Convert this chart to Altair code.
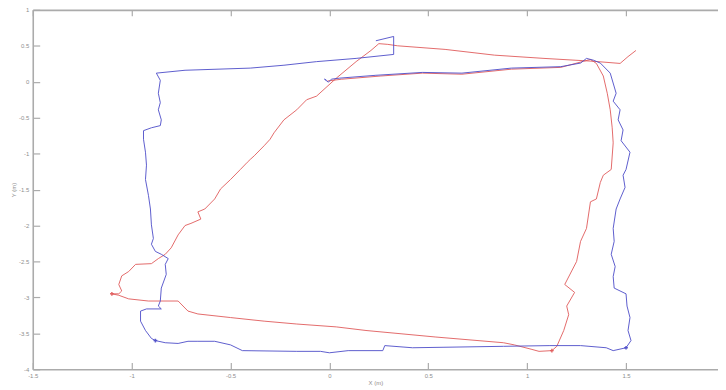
import altair as alt
import pandas as pd

# ---- data (metres) ----
blue_x = [-0.015, -0.025, -0.005, 0.01, 0.05, 0.235, 0.47, 0.67, 0.92, 1.17, 1.27, 1.30, 1.335, 1.37,
          1.42, 1.45, 1.435, 1.47, 1.46, 1.485, 1.475, 1.52, 1.50, 1.485, 1.495, 1.47, 1.45, 1.435, 1.44,
          1.425, 1.445, 1.435, 1.44, 1.50, 1.505, 1.52, 1.51, 1.525, 1.50,
          1.435, 1.40, 1.27, 1.115, 0.88, 0.42, 0.28, 0.27, 0.095, 0.0, -0.045, -0.165, -0.44, -0.50,
          -0.58, -0.665, -0.715, -0.765, -0.83, -0.88,
          -0.90, -0.93, -0.955, -0.955, -0.925, -0.85, -0.865, -0.855, -0.85, -0.825, -0.83, -0.815,
          -0.85, -0.88, -0.90, -0.89, -0.90, -0.905, -0.915, -0.93, -0.925, -0.93, -0.94, -0.94, -0.90,
          -0.855, -0.85, -0.865, -0.855, -0.865, -0.855, -0.875,
          -0.73, -0.40, -0.23, -0.065, 0.135, 0.325, 0.325, 0.235]
blue_y = [0.022, 0.036, -0.006, 0.036, 0.05, 0.09, 0.13, 0.12, 0.19, 0.21, 0.26, 0.325, 0.30, 0.26,
          0.12, -0.16, -0.27, -0.39, -0.53, -0.67, -0.82, -0.98, -1.22, -1.30, -1.47, -1.63, -1.77, -2.04, -2.22,
          -2.40, -2.57, -2.71, -2.87, -2.95, -3.12, -3.28, -3.46, -3.60, -3.70,
          -3.74, -3.70, -3.67, -3.67, -3.68, -3.70, -3.67, -3.74, -3.74, -3.77, -3.75, -3.75, -3.74, -3.66,
          -3.61, -3.61, -3.61, -3.64, -3.63, -3.60,
          -3.57, -3.46, -3.33, -3.19, -3.16, -3.16, -3.12, -3.05, -2.87, -2.68, -2.54, -2.46,
          -2.40, -2.36, -2.26, -2.18, -1.99, -1.77, -1.58, -1.36, -1.16, -0.98, -0.80, -0.68, -0.64,
          -0.61, -0.53, -0.39, -0.29, -0.16, 0.02, 0.12,
          0.16, 0.19, 0.23, 0.28, 0.325, 0.38, 0.63, 0.57]

red_x = [-0.01, 0.06, 0.26, 0.47, 0.67, 0.92, 1.17, 1.285, 1.32, 1.35,
         1.385, 1.405, 1.42, 1.43, 1.435, 1.425, 1.385, 1.37, 1.35, 1.32, 1.30, 1.27, 1.25, 1.22, 1.19,
         1.24, 1.20, 1.21, 1.185, 1.15, 1.125,
         1.06, 1.02, 0.935, 0.88, 0.535, 0.185, 0.035, -0.165, -0.33, -0.50, -0.665, -0.715, -0.765,
         -0.915, -1.015, -1.065, -1.10, -1.065, -1.05, -1.065, -1.05, -1.015, -0.98, -0.90, -0.865,
         -0.83, -0.80, -0.765, -0.73, -0.70, -0.65, -0.665, -0.63, -0.58, -0.55, -0.50, -0.45, -0.415,
         -0.40, -0.38, -0.33, -0.30, -0.28, -0.23, -0.165, -0.115, -0.065, 0.035, 0.135, 0.21, 0.25,
         0.295, 0.345, 0.585, 0.835, 1.085, 1.335, 1.47, 1.51, 1.55]
red_y = [0.01, 0.035, 0.08, 0.12, 0.105, 0.175, 0.20, 0.285, 0.31, 0.255,
         0.08, -0.16, -0.39, -0.64, -0.85, -1.22, -1.30, -1.40, -1.63, -1.67, -2.04, -2.22, -2.50, -2.66, -2.82,
         -2.93, -3.12, -3.24, -3.46, -3.68, -3.74,
         -3.75, -3.72, -3.66, -3.63, -3.55, -3.46, -3.41, -3.37, -3.33, -3.28, -3.23, -3.19, -3.05,
         -3.05, -3.02, -2.97, -2.95, -2.95, -2.91, -2.82, -2.70, -2.64, -2.54, -2.53, -2.46,
         -2.40, -2.31, -2.13, -2.00, -1.97, -1.91, -1.81, -1.77, -1.63, -1.49, -1.36, -1.22, -1.12,
         -1.08, -1.03, -0.89, -0.80, -0.71, -0.53, -0.39, -0.25, -0.20, 0.05, 0.28, 0.435, 0.53,
         0.52, 0.50, 0.45, 0.37, 0.325, 0.285, 0.255, 0.35, 0.435]

marker_x = [-0.88, 1.50, -1.10, 1.125]
marker_y = [-3.60, -3.70, -2.95, -3.74]
marker_run = ["blue", "blue", "red", "red"]

x_ticks = [-1.5, -1, -0.5, 0, 0.5, 1, 1.5]
y_ticks = [1, 0.5, 0, -0.5, -1, -1.5, -2, -2.5, -3, -3.5, -4]

# ---- style ----
W, H = 692, 363
AXC = "#ababab"
LABC = "#8e8e8e"
FONT = "Liberation Sans"
BLUE = "#4b4bc8"
RED = "#e05a5a"

xs = alt.Scale(domain=[-1.5, 1.965], nice=False, zero=False)
ys = alt.Scale(domain=[-4, 1], nice=False, zero=False)

blue_df = pd.DataFrame({"i": list(range(len(blue_x))), "x": blue_x, "y": blue_y})
red_df = pd.DataFrame({"i": list(range(len(red_x))), "x": red_x, "y": red_y})
mk_df = pd.DataFrame({"x": marker_x, "y": marker_y, "run": marker_run})

lab_x_axis = alt.Axis(values=x_ticks, orient="bottom", domain=False, ticks=False, grid=False,
                      labelPadding=3, labelFontSize=6, labelColor=LABC, labelFont=FONT,
                      labelFlush=False, labelExpr="toString(datum.value)",
                      title="X (m)", titleFontSize=6, titleFont=FONT, titleFontWeight="normal",
                      titleColor=LABC, titlePadding=1)
lab_y_axis = alt.Axis(values=y_ticks, orient="left", domain=False, ticks=False, grid=False,
                      labelPadding=4, labelFontSize=6, labelColor=LABC, labelFont=FONT,
                      labelFlush=False, labelExpr="toString(datum.value)",
                      title="Y (m)", titleFontSize=6, titleFont=FONT, titleFontWeight="normal",
                      titleColor=LABC, titlePadding=2)

# inward ticks + bottom / left box lines
in_x_bottom = alt.Axis(values=x_ticks, orient="top", offset=-H, domain=True, domainColor=AXC,
                       domainWidth=1.6, ticks=True, tickColor=AXC, tickSize=7, tickWidth=1.2,
                       labels=False, grid=False, title=None)
in_y_left = alt.Axis(values=y_ticks, orient="right", offset=-W, domain=True, domainColor=AXC,
                     domainWidth=1.6, ticks=True, tickColor=AXC, tickSize=7, tickWidth=1.2,
                     labels=False, grid=False, title=None)
# top box line with inward ticks
in_x_top = alt.Axis(values=x_ticks, orient="bottom", offset=-H, domain=True, domainColor=AXC,
                    domainWidth=1.6, ticks=True, tickColor=AXC, tickSize=6, tickWidth=1.2,
                    labels=False, grid=False, title=None)

blue_line = alt.Chart(blue_df).mark_line(color=BLUE, strokeWidth=1, opacity=0.9, clip=True).encode(
    x=alt.X("x:Q", scale=xs, axis=lab_x_axis),
    y=alt.Y("y:Q", scale=ys, axis=lab_y_axis),
    order="i:Q",
)
red_line = alt.Chart(red_df).mark_line(color=RED, strokeWidth=1, opacity=0.9, clip=True).encode(
    x=alt.X("x:Q", scale=xs, axis=in_x_bottom),
    y=alt.Y("y:Q", scale=ys, axis=in_y_left),
    order="i:Q",
)
markers = alt.Chart(mk_df).mark_point(shape="cross", filled=True, size=14, opacity=0.9).encode(
    x=alt.X("x:Q", scale=xs, axis=in_x_top),
    y=alt.Y("y:Q", scale=ys, axis=None),
    color=alt.Color("run:N", scale=alt.Scale(domain=["blue", "red"], range=[BLUE, RED]), legend=None),
)

chart = alt.layer(red_line, blue_line, markers).resolve_axis(
    x="independent", y="independent"
).properties(
    width=W, height=H,
    autosize=alt.AutoSizeParams(type="none"),
    padding={"left": 25, "top": 0, "right": 0, "bottom": 19},
    background="white",
).configure_view(stroke="transparent")

chart.save("out.html", embed_options={"renderer": "svg", "actions": False})
